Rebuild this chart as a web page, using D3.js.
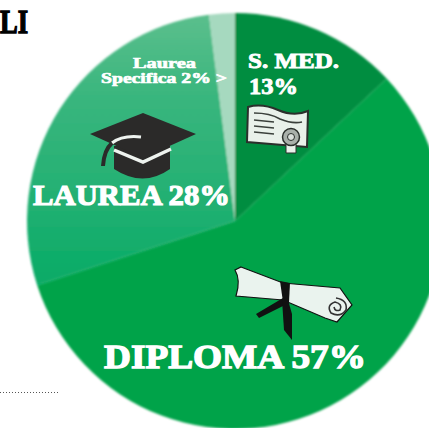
<!DOCTYPE html>
<html><head><meta charset="utf-8">
<script src="https://cdn.jsdelivr.net/npm/d3@7"></script>
<style>html,body{margin:0;padding:0;background:#fff;overflow:hidden}svg{display:block}
text{font-family:"Liberation Serif",serif;font-weight:700;fill:#fff}</style>
</head><body><svg id="c" width="429" height="428"></svg>
<script>
const categories=["S. MED.","DIPLOMA","LAUREA","Laurea Specifica"];
const shares=[13,57,28,2];
const sliceFills=["#048d40","#03a34a","url(#lg)","#a6d9bf"];
const svg=d3.select("#c");
const defs=svg.append("defs");
const cx=235,cy=221,R=208;
const lg=defs.append("linearGradient").attr("id","lg").attr("gradientUnits","userSpaceOnUse")
 .attr("x1",0).attr("y1",-R).attr("x2",0).attr("y2",64);
[[0,"#5cbf8d"],[0.3,"#3ab67e"],[0.7,"#22b072"],[1,"#06ab66"]].forEach(s=>lg.append("stop").attr("offset",s[0]).attr("stop-color",s[1]));
defs.append("filter").attr("id","soft").append("feGaussianBlur").attr("stdDeviation",0.8);
const pie=d3.pie().sort(null)(shares);
const arc=d3.arc().innerRadius(0).outerRadius(R);
svg.append("g").attr("transform",`translate(${cx},${cy})`).attr("filter","url(#soft)")
 .selectAll("path").data(pie).join("path").attr("d",arc).attr("fill",(d,i)=>sliceFills[i]);

// Cut-off title and dotted rule
svg.append("text").attr("x",0).attr("y",33).attr("font-size",33).attr("textLength",28).attr("lengthAdjust","spacingAndGlyphs")
 .style("fill","#000").style("stroke","#000").style("stroke-width",1.4).text("LI");
svg.append("line").attr("x1",0).attr("x2",59).attr("y1",392.5).attr("y2",392.5)
 .attr("stroke","#555").attr("stroke-width",1).attr("stroke-dasharray","1 2");

// Labels
const labels=[
 {t:"Laurea",x:133,y:68,fs:15,w:63,sw:0.7},
 {t:"Specifica 2% >",x:101,y:83,fs:15,w:126,sw:0.7},
 {t:"S. MED.",x:248,y:68,fs:21,w:91,sw:0.9},
 {t:"13%",x:249,y:94,fs:23,w:49,sw:0.9},
 {t:"LAUREA 28%",x:33,y:205,fs:30,w:197,sw:1.2},
 {t:"DIPLOMA 57%",x:104,y:368,fs:34,w:262,sw:1.3}];
svg.append("g").selectAll("text").data(labels).join("text")
 .attr("x",d=>d.x).attr("y",d=>d.y).attr("font-size",d=>d.fs)
 .attr("textLength",d=>d.w).attr("lengthAdjust","spacingAndGlyphs")
 .style("stroke","#fff").style("stroke-width",d=>d.sw).text(d=>d.t);

// Graduation cap
const cap=svg.append("g");
cap.append("path").attr("d","M114 146L170 146L170 169Q143 188 114 169Z").attr("fill","#2b2a29");
cap.append("path").attr("d","M90 134L143 113L196 134L143 158Z").attr("fill","#2b2a29");
cap.append("path").attr("d","M114 150L143 162L171 149").attr("fill","none").attr("stroke","#eef3ef").attr("stroke-width",3.5);
cap.append("path").attr("d","M141 137Q122 135 112 143").attr("fill","none").attr("stroke","#eef3ef").attr("stroke-width",3);
cap.append("path").attr("d","M112 143Q104 150 103 166").attr("fill","none").attr("stroke","#2b2a29").attr("stroke-width",4);

// Certificate
const cert=svg.append("g");
cert.append("path").attr("d","M248 107Q262 103 278 110Q294 117 308 111L307 147L247 142Z")
 .attr("fill","#e9f1ea").attr("stroke","#2a2f2b").attr("stroke-width",2);
["M254 113Q270 113 280 119Q292 124 302 122","M254 120L274 122","M254 126L274 128","M254 132L274 134"].forEach(p=>
 cert.append("path").attr("d",p).attr("fill","none").attr("stroke","#3a403b").attr("stroke-width",1.7));
cert.append("path").attr("d","M286 143L286 153L296 153L296 143Z").attr("fill","#e9f1ea").attr("stroke","#2a2f2b");
cert.append("circle").attr("cx",291).attr("cy",137).attr("r",8.5).attr("fill","#a9b0aa").attr("stroke","#2a2f2b").attr("stroke-width",1.5);
cert.append("circle").attr("cx",291).attr("cy",137).attr("r",3.5).attr("fill","#d9dfda").attr("stroke","#2a2f2b");

// Scroll
const scroll=svg.append("g");
scroll.append("path").attr("d","M241 267L283 283L340 288L352 305L337 322L325 318L283 300L236 296Q241 280 235 270Z")
 .attr("fill","#eaf3ee").attr("stroke","#111").attr("stroke-width",1.2);
scroll.append("path").attr("d","M336 298Q348 300 346 310Q340 318 331 313Q326 305 335 302Q343 304 340 310Q335 312 334 307")
 .attr("fill","none").attr("stroke","#333").attr("stroke-width",1.6);
scroll.append("path").attr("d","M280 281L290 283L289 302L283 302Z").attr("fill","#111");
scroll.append("path").attr("d","M283 298L256 314L259 318L287 304Z").attr("fill","#111");
scroll.append("path").attr("d","M282 300L284 330L292 340L292 314L288 300Z").attr("fill","#111");
</script></body></html>
